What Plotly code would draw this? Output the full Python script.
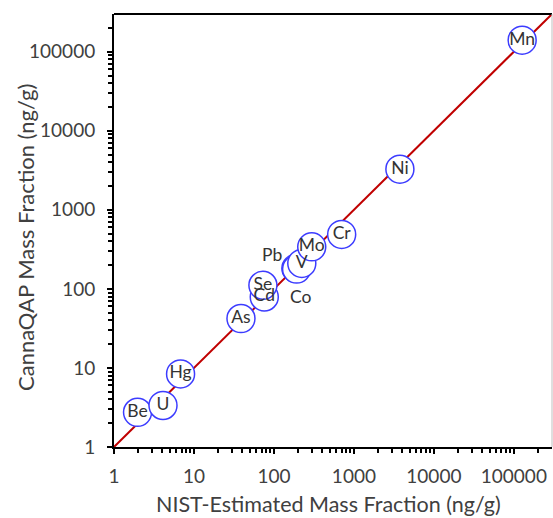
import numpy as np
import plotly.graph_objects as go

# Element labels and mass fractions (ng/g)
elements = ["Be", "U", "Hg", "As", "Cd", "Se", "Pb", "Co", "V", "Mo", "Cr", "Ni", "Mn"]
nist_estimated = [1.97, 4.1, 6.8, 38.7, 75.7, 72.8, 188, 192, 223, 297, 703, 3760, 127000]
cannaqap = [2.75, 3.35, 8.4, 42.2, 79, 111, 182, 178, 210, 340, 489, 3270, 140000]

# Labels drawn beside their marker rather than inside it: (element, x shift px, y shift px)
offset_labels = {"Pb": (-24, 14), "Co": (4, -27)}

major_ticks = [1, 10, 100, 1000, 10000, 100000]
major_labels = ["1", "10", "100", "1000", "10000", "100000"]
axis_max = 300000

minor_ticks = [m * 10 ** k for k in range(0, 6) for m in range(2, 10) if m * 10 ** k < axis_max]

FONT = "Lato"
TEXT_COLOR = "#404040"
LABEL_COLOR = "#333333"

fig = go.Figure()

# 1:1 reference line
fig.add_trace(go.Scatter(
    x=[1, axis_max], y=[1, axis_max], mode="lines",
    line=dict(color="#c00000", width=2), hoverinfo="skip", showlegend=False,
))

inside_text = ["" if e in offset_labels else e for e in elements]
fig.add_trace(go.Scatter(
    x=nist_estimated, y=cannaqap, mode="markers+text",
    text=inside_text, textposition="middle center",
    textfont=dict(family=FONT, size=17.5, color=LABEL_COLOR),
    marker=dict(size=28, color="white", line=dict(color="#3c3cff", width=1.5)),
    cliponaxis=False, showlegend=False, hoverinfo="skip",
))

for name, (dx, dy) in offset_labels.items():
    i = elements.index(name)
    fig.add_annotation(
        x=np.log10(nist_estimated[i]), y=np.log10(cannaqap[i]),
        text=name, showarrow=False, xshift=dx, yshift=dy,
        font=dict(family=FONT, size=17.5, color=LABEL_COLOR),
    )

axis_common = dict(
    type="log",
    range=[0, np.log10(axis_max)],
    tickvals=major_ticks, ticktext=major_labels,
    ticks="outside", ticklen=5, tickwidth=1.5, tickcolor="black",
    minor=dict(tickvals=minor_ticks, ticks="outside", ticklen=4, tickwidth=1.5,
               tickcolor="black", showgrid=False),
    showline=True, linecolor="black", linewidth=2,
    showgrid=False, zeroline=False,
    tickfont=dict(family=FONT, size=19, color=TEXT_COLOR),
)

fig.update_xaxes(**axis_common, ticklabelstandoff=6)
fig.update_yaxes(**axis_common, ticklabelstandoff=8)

# Axis titles
fig.add_annotation(
    text="NIST-Estimated Mass Fraction (ng/g)", xref="paper", yref="paper",
    x=(328 - 114) / 438, y=-(504 - 447) / 433, showarrow=False,
    xanchor="center", yanchor="middle",
    font=dict(family=FONT, size=21.5, color=TEXT_COLOR),
)
fig.add_annotation(
    text="CannaQAP Mass Fraction (ng/g)", xref="paper", yref="paper",
    x=-(114 - 25) / 438, y=(447 - 238) / 433, showarrow=False, textangle=-90,
    xanchor="center", yanchor="middle",
    font=dict(family=FONT, size=22, color=TEXT_COLOR),
)

# Frame: black top edge, light gray right edge
fig.add_shape(type="line", xref="paper", yref="paper", x0=0, x1=1, y0=1, y1=1,
              line=dict(color="black", width=2))
fig.add_shape(type="line", xref="paper", yref="paper", x0=1, x1=1, y0=0, y1=1,
              line=dict(color="#bfbfbf", width=1))

fig.update_layout(
    width=553, height=518,
    margin=dict(l=114, r=1, t=14, b=71),
    paper_bgcolor="white", plot_bgcolor="white",
    font=dict(family=FONT, color=TEXT_COLOR),
)

fig.write_html("out.html")
